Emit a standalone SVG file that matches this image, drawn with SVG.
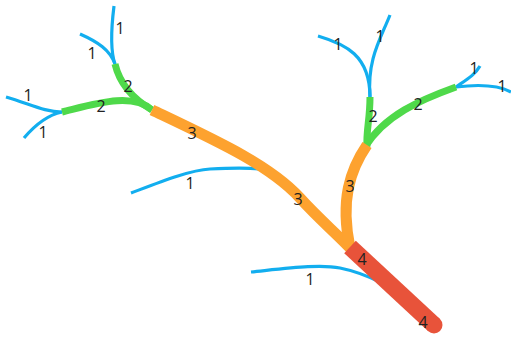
<svg xmlns="http://www.w3.org/2000/svg" width="511" height="339" viewBox="0 0 511 339">
<style>
.s{fill:none;stroke-linecap:butt;stroke-linejoin:round}
.o1{stroke:#12AEEF;stroke-width:3.2}
.o2{stroke:#4FD94A;stroke-width:7}
.o3{stroke:#FDA22F;stroke-width:11}
.o4{stroke:#E8533A;stroke-width:17}
text{font-family:"Open Sans","Liberation Sans",sans-serif;font-size:16px;fill:#222;text-anchor:middle;dominant-baseline:central}
</style>
<rect width="511" height="339" fill="#fff"/>
<g id="streams">
<g id="order1">
<path class="s o1" d="M114,6 C111,30 110,50 115,64"/>
<path class="s o1" d="M80,34 C98,42 110,50 115,64"/>
<path class="s o1" d="M6,97 C30,104 45,112 62,112"/>
<path class="s o1" d="M24,138 C35,125 48,115 62,112"/>
<path class="s o1" d="M318,36 C345,44 370,55 370,97"/>
<path class="s o1" d="M390,15 C380,40 367,60 370,97"/>
<path class="s o1" d="M456,87 C466,80 475,75 480,66"/>
<path class="s o1" d="M456,87 C480,84 500,86 511,92"/>
<path class="s o1" d="M131,193 C160,182 190,170 210,169 C230,168 250,168 259,169"/>
<path class="s o1" d="M251,272 C290,268 320,264 340,268 C360,272 372,278 382,283"/>
</g>
<g id="order2">
<path class="s o2" d="M115,64 C120,85 135,100 152,110"/>
<path class="s o2" d="M62,112 C95,104 132,92 152,110"/>
<path class="s o2" d="M370,97 C370,120 366,130 367,147"/>
<path class="s o2" d="M365,147 C385,115 420,100 456,87"/>
</g>
<g id="order3">
<path class="s o3" d="M152,110 C215,140 270,165 300,198 C320,220 335,232 352,250"/>
<path class="s o3" d="M367,145 C350,170 340,200 350,248"/>
</g>
<g id="order4">
<path class="s o4" d="M350,247 L434,325"/>
<circle cx="434" cy="325" r="8.5" fill="#E8533A"/>
</g>
</g>
<g id="labels">
<text x="120" y="28">1</text>
<text x="92" y="53">1</text>
<text x="128" y="86">2</text>
<text x="101" y="106">2</text>
<text x="28" y="95">1</text>
<text x="43" y="132">1</text>
<text x="192" y="133">3</text>
<text x="190" y="183">1</text>
<text x="298" y="199">3</text>
<text x="338" y="44">1</text>
<text x="380" y="36">1</text>
<text x="373" y="116">2</text>
<text x="418" y="104">2</text>
<text x="474" y="68">1</text>
<text x="502" y="86">1</text>
<text x="350" y="186">3</text>
<text x="362" y="259">4</text>
<text x="310" y="279">1</text>
<text x="423" y="322">4</text>
</g>
</svg>
